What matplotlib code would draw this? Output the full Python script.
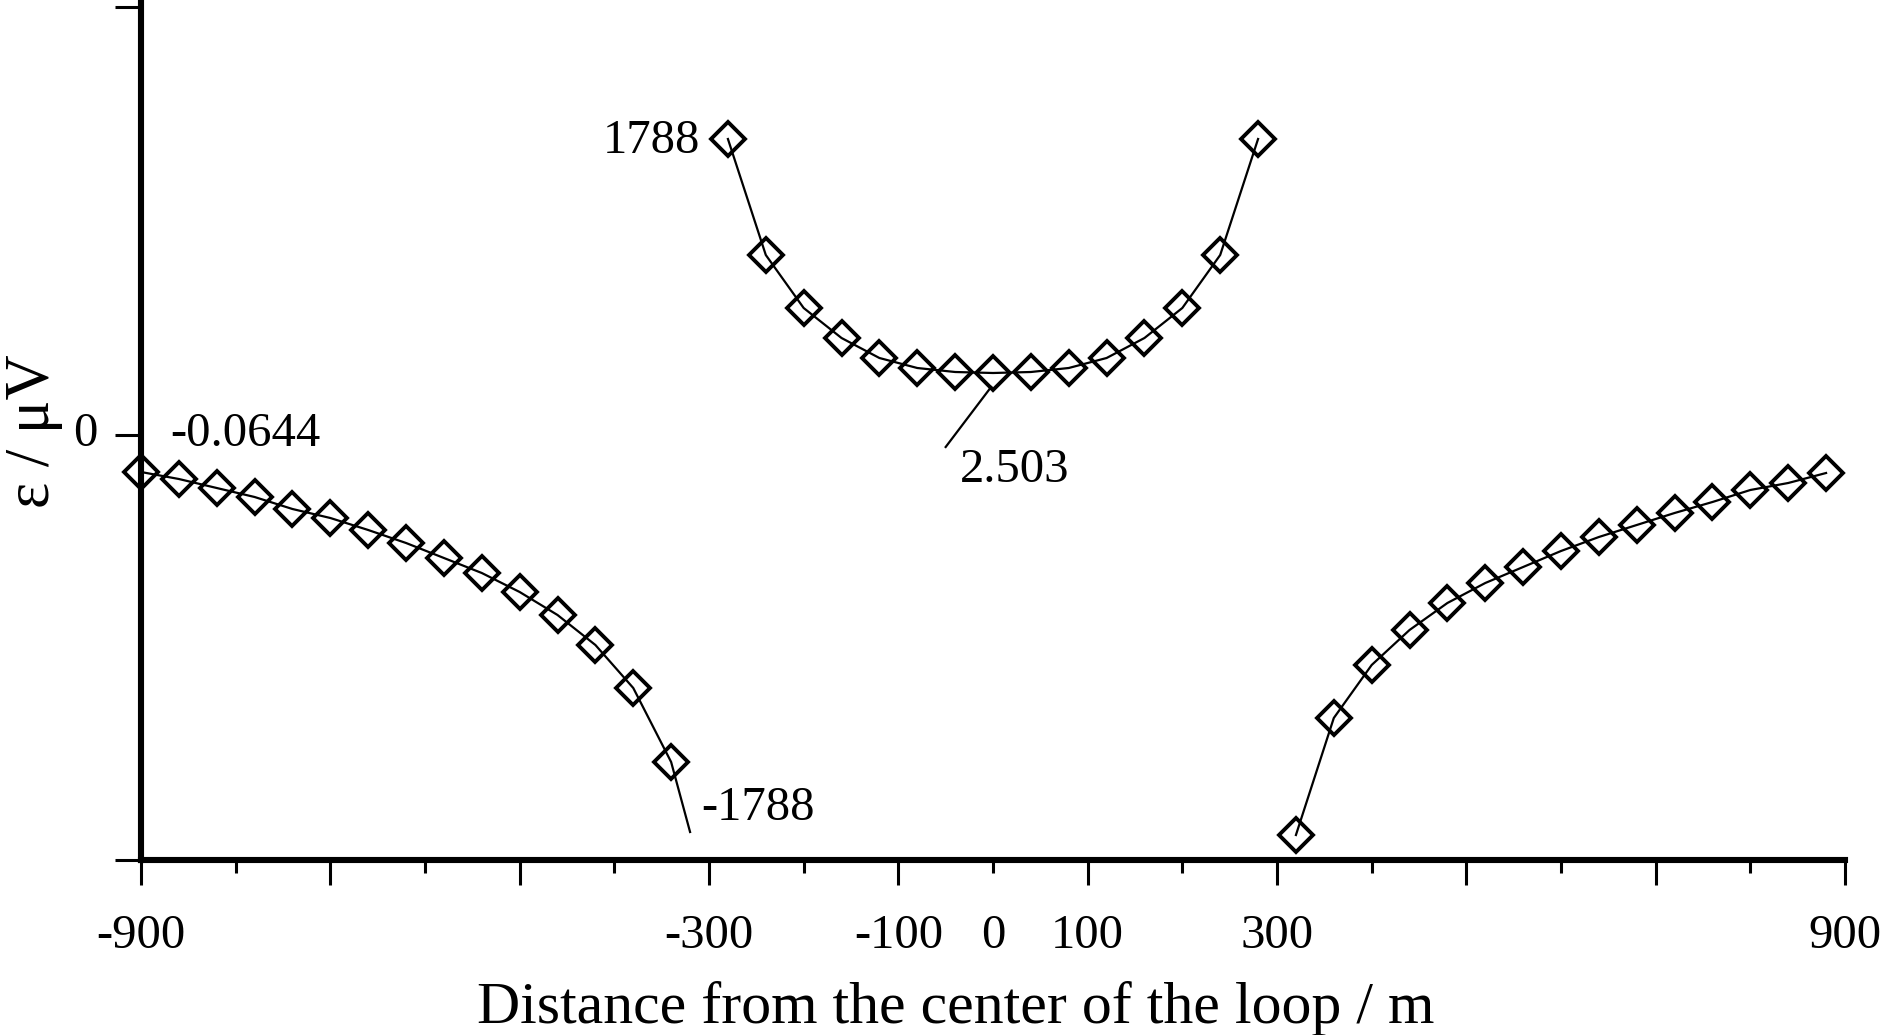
import matplotlib
matplotlib.use("Agg")
import matplotlib.pyplot as plt
from matplotlib.transforms import ScaledTranslation

plt.rcParams['font.family'] = ['Liberation Serif', 'DejaVu Serif']

# ---- data (y in relative plot units; only 0 is labelled on the axis) ----
left_x = [-900, -860, -820, -780, -740, -700, -660, -620, -580, -540, -500, -460, -420, -380, -340, -320]
left_y = [-37, -44, -53, -62, -74, -83, -95, -108, -123, -138, -157, -180, -210, -253, -327, -397]
left_marked = 15  # last point of the line carries no marker

center_x = [-280, -240, -200, -160, -120, -80, -40, 0, 40, 80, 120, 160, 200, 240, 280]
center_y = [296, 180, 127, 97, 77, 67, 63, 62, 63, 67, 77, 97, 127, 180, 296]

right_x = [320, 360, 400, 440, 480, 520, 560, 600, 640, 680, 720, 760, 800, 840, 880]
right_y = [-400, -283, -230, -195, -168, -148, -132, -116, -102, -90, -78, -67, -55, -48, -38]

major_ticks = [-900, -700, -500, -300, -100, 100, 300, 500, 700, 900]
major_labels = ['-900', '', '', '-300', '-100', '100', '300', '', '', '900']
minor_ticks = [-800, -600, -400, -200, 0, 200, 400, 600, 800]
minor_labels = ['', '', '', '', '0', '', '', '', '']

xlabel = "Distance from the center of the loop / m"
ylabel = "ε / μV"

W, H = 1890, 1035
fig = plt.figure(figsize=(W / 100, H / 100), dpi=100)
ax = fig.add_axes([141 / W, 175 / H, (1845 - 141) / W, 860 / H])
ax.set_xlim(-900, 900)
ax.set_ylim(-425, 435)

mk = dict(marker='D', markersize=17.5, markerfacecolor='none',
          markeredgecolor='black', markeredgewidth=2.8)
ax.plot(left_x, left_y, color='black', lw=1.6, markevery=list(range(left_marked)),
        clip_on=False, **mk)
ax.plot(center_x, center_y, color='black', lw=1.6, clip_on=False, **mk)
ax.plot(right_x, right_y, color='black', lw=1.6, clip_on=False, **mk)

# annotations
fs = 35
ax.text(-309, 294, "1788", fontsize=fs, ha='right', va='center')
ax.text(-869, 1, "-0.0644", fontsize=fs, ha='left', va='center')
ax.text(-308, -373, "-1788", fontsize=fs, ha='left', va='center')
ax.text(-35, -35, "2.503", fontsize=fs, ha='left', va='center')
ax.plot([-50, -2], [-12, 48], color='black', lw=1.6)

# spines
for s in ['top', 'right']:
    ax.spines[s].set_visible(False)
for s in ['left', 'bottom']:
    ax.spines[s].set_linewidth(4.4)

ax.set_xticks(major_ticks)
ax.set_xticklabels(major_labels)
ax.set_xticks(minor_ticks, minor=True)
ax.set_xticklabels(minor_labels, minor=True)
ax.tick_params(axis='x', which='major', direction='out', length=18, width=2.2,
               pad=21, labelsize=fs)
ax.tick_params(axis='x', which='minor', direction='out', length=9.5, width=2.2,
               pad=21 + 8.5, labelsize=fs)

ax.set_yticks([-425, 0, 428])
ax.set_yticklabels(['', '0', ''])
ax.tick_params(axis='y', which='major', direction='out', length=19, width=2.2,
               pad=12, labelsize=fs)
for lab in ax.get_yticklabels():
    lab.set_transform(lab.get_transform() + ScaledTranslation(0, 4 / 72, fig.dpi_scale_trans))

fig.text(956 / W, (H - 1023) / H, xlabel, fontsize=43, ha='center', va='baseline')
fig.text(34 / W, (H - 431) / H, ylabel, fontsize=45, ha='center', va='center',
         rotation=90)

fig.savefig("out.png", dpi=100)
